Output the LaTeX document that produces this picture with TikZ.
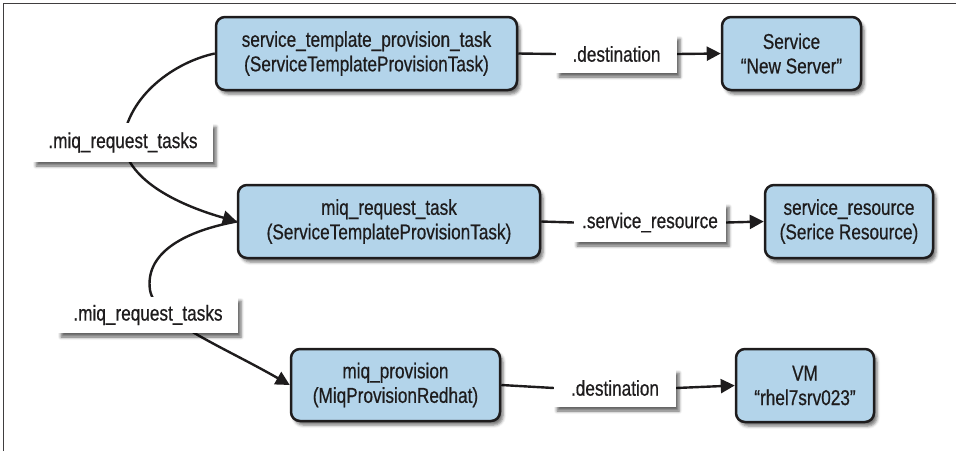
\documentclass[tikz,border=0pt]{standalone}
\usepackage{fontspec}
\setmainfont[FakeStretch=0.80,FakeBold=0.6]{Liberation Sans}
\usetikzlibrary{arrows.meta,shadows.blur,backgrounds}
\definecolor{boxblue}{RGB}{179,212,234}
\definecolor{ink}{RGB}{30,28,29}
\begin{document}
\begin{tikzpicture}[x=1pt,y=-1pt,
  every node/.style={font=\fontsize{21.5}{24.5}\selectfont, text=ink},
  obj/.style={draw=ink, line width=2.5pt, fill=boxblue, rounded corners=9pt,
    align=center, inner sep=0pt,
    blur shadow={shadow xshift=3pt, shadow yshift=-4pt, shadow blur radius=3pt, shadow opacity=55}},
  lab/.style={fill=white, inner sep=0pt, align=center,
    blur shadow={shadow xshift=3pt, shadow yshift=-4pt, shadow blur radius=3pt, shadow opacity=60}},
  conn/.style={draw=ink, line width=2.4pt},
  arr/.style={conn, -{Triangle[length=14pt,width=14pt]}}]
\useasboundingbox (0,0) rectangle (956,451);

% object boxes
\node[obj, minimum width=301pt, minimum height=73pt] (A) at (366.5,53.5)
  {service\_template\_provision\_task\\(ServiceTemplateProvisionTask)};
\node[obj, minimum width=139pt, minimum height=73pt] (B) at (791.5,53.5)
  {Service\\“New Server”};
\node[obj, minimum width=302pt, minimum height=73pt] (C) at (389,221.5)
  {miq\_request\_task\\(ServiceTemplateProvisionTask)};
\node[obj, minimum width=168pt, minimum height=73pt] (D) at (849,221.5)
  {service\_resource\\(Serice Resource)};
\node[obj, minimum width=209pt, minimum height=72pt] (E) at (395.5,385)
  {miq\_provision\\(MiqProvisionRedhat)};
\node[obj, minimum width=138pt, minimum height=73pt] (F) at (805,385.5)
  {VM\\“rhel7srv023”};

% labels
\node[lab, minimum width=121pt, minimum height=38pt] (Ld1) at (616.5,54) {.destination};
\node[lab, minimum width=152pt, minimum height=39pt] (Lsr) at (650,222.5) {.service\_resource};
\node[lab, minimum width=122pt, minimum height=38pt] (Ld2) at (615,388) {.destination};
\node[lab, minimum width=180pt, minimum height=39pt] (Lm1) at (123,142.5) {.miq\_request\_tasks};
\node[lab, minimum width=180pt, minimum height=36pt] (Lm2) at (148,315) {.miq\_request\_tasks};

\begin{scope}[on background layer]
  % frame
  \coordinate (f1) at (3.5,451);
  \coordinate (f2) at (3.5,3.5);
  \coordinate (f3) at (956,3.5);
  \draw[line width=1.5pt, draw=ink!85] (f1) -- (f2) -- (f3);
  % straight connectors
  \draw[conn] (A.east) -- (Ld1.west);
  \draw[arr] (Ld1.east) -- (B.west);
  \draw[conn] (C.east) -- (Lsr.west);
  \draw[arr] (Lsr.east) -- (D.west);
  \draw[conn] (E.east) -- (Ld2.west);
  \draw[arr] (Ld2.east) -- (F.west);
  % curved connectors
  \draw[arr] (A.west) .. controls (175,62) and (128,95) .. (Lm1.center)
     .. controls (128,182) and (182,206) .. (C.west);
  \draw[arr] (C.west) .. controls (180,232) and (145,255) .. (150,290)
     .. controls (155,320) and (220,345) .. (E.west);
\end{scope}
\end{tikzpicture}
\end{document}
